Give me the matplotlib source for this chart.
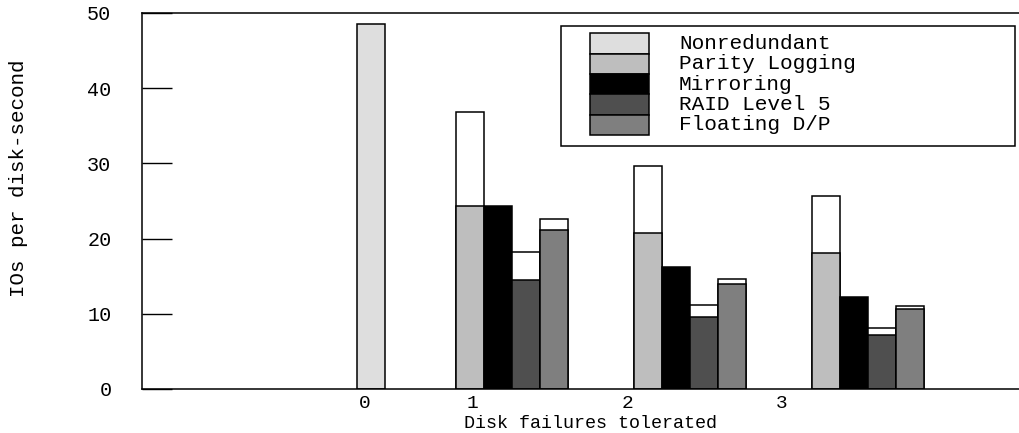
import matplotlib
matplotlib.use("Agg")
import matplotlib.pyplot as plt
from matplotlib.patches import Rectangle

plt.rcParams['font.family'] = ['Liberation Mono', 'DejaVu Sans Mono']

# ---- data ----------------------------------------------------------------
series = ["Nonredundant", "Parity Logging", "Mirroring", "RAID Level 5", "Floating D/P"]
colors = ["#dedede", "#bebebe", "#000000", "#4f4f4f", "#7f7f7f"]

failures = ["0", "1", "2", "3"]

nonredundant = [48.5]                    # only at 0 failures tolerated
parity_logging = [24.3, 20.7, 18.1]      # failures 1, 2, 3
parity_logging_peak = [36.8, 29.7, 25.7]
mirroring = [24.3, 16.2, 12.2]
raid5 = [14.5, 9.6, 7.2]
raid5_peak = [18.2, 11.2, 8.1]
floating_dp = [21.1, 14.0, 10.6]
floating_dp_peak = [22.6, 14.6, 11.0]

# ---- layout --------------------------------------------------------------
group_x = [1, 2, 3]
nonredundant_x = [0.208]
bar_w = 0.157
tick_x = [0.174, 0.777, 1.650, 2.516]

fig = plt.figure(figsize=(10.2, 4.33), dpi=100)
ax = fig.add_axes([142 / 1020, 44 / 433, 878 / 1020, 376 / 433])

edge = dict(edgecolor="black", linewidth=1.1)

ax.bar(nonredundant_x, nonredundant, width=bar_w, color=colors[0], **edge)

grouped = [
    (parity_logging, parity_logging_peak, colors[1]),
    (mirroring, None, colors[2]),
    (raid5, raid5_peak, colors[3]),
    (floating_dp, floating_dp_peak, colors[4]),
]
for i, (vals, peak, col) in enumerate(grouped):
    xs = [g + (i - 1.5) * bar_w for g in group_x]
    if peak is not None:
        ax.bar(xs, peak, width=bar_w, color="white", **edge)
    ax.bar(xs, vals, width=bar_w, color=col, **edge)

ax.set_xlim(-1.079, 3.854)
ax.set_ylim(0, 50)

ax.set_yticks(range(0, 51, 10))
ax.set_xticks(tick_x)
ax.set_xticklabels(failures)
ax.tick_params(axis="y", direction="in", length=21.6, width=1.0, pad=22,
               labelsize=14.5)
ax.tick_params(axis="x", length=0, pad=4, labelsize=14)

for side in ("left", "bottom", "top"):
    ax.spines[side].set_linewidth(1.1)
ax.spines["right"].set_visible(False)

fig.text(18.5 / 1020, 1 - 178 / 433, "IOs per disk-second", rotation=90,
         ha="center", va="center", fontsize=15)
fig.text(591 / 1020, 1 - 427.5 / 433, "Disk failures tolerated",
         ha="center", va="baseline", fontsize=13.2)

# ---- legend (stacked swatches inside a framed box) -------------------------
def ax_x(px):
    return (px - 142) / 878

def ax_y(py):
    return (389 - py) / 376

ax.add_patch(Rectangle((ax_x(561), ax_y(145.5)), ax_x(1015) - ax_x(561),
                       ax_y(26) - ax_y(145.5), transform=ax.transAxes,
                       facecolor="white", edgecolor="black", linewidth=1.1,
                       zorder=5))
row_h = 20.35
for k, (name, col) in enumerate(zip(series, colors)):
    top = 33.3 + k * row_h
    ax.add_patch(Rectangle((ax_x(590), ax_y(top + row_h)), ax_x(649) - ax_x(590),
                           ax_y(top) - ax_y(top + row_h), transform=ax.transAxes,
                           facecolor=col, edgecolor="black", linewidth=1.1,
                           zorder=6))
    ax.text(ax_x(679), ax_y(top + row_h / 2), name, transform=ax.transAxes,
            ha="left", va="center", fontsize=15.2, zorder=7)

fig.savefig("out.png", dpi=100)
